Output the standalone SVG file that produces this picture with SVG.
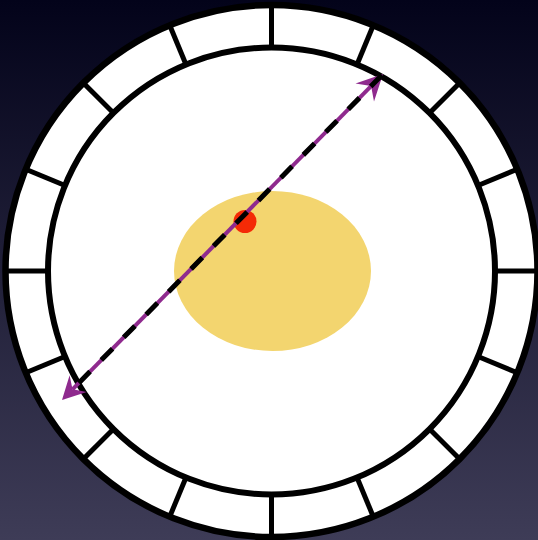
<svg xmlns="http://www.w3.org/2000/svg" width="538" height="540" viewBox="0 0 538 540">
  <defs>
    <linearGradient id="bg" x1="0" y1="0" x2="0" y2="1">
      <stop offset="0" stop-color="#03031a"/>
      <stop offset="1" stop-color="#3e3c57"/>
    </linearGradient>
    <line id="tick" x1="271.5" y1="47.5" x2="271.5" y2="5" stroke="#000" stroke-width="5"/>
  </defs>
  <style>
    .ring { fill: none; stroke: #000; }
    .purple { stroke: #8f2a8e; stroke-width: 4; fill: none; }
    .head { fill: #8f2a8e; }
    .dash { stroke: #000; stroke-width: 5; stroke-dasharray: 16 16; fill: none; }
  </style>
  <rect x="0" y="0" width="538" height="540" fill="url(#bg)"/>
  <g id="dial">
    <circle cx="271.5" cy="271" r="266" fill="#fff" stroke="#000" stroke-width="6.5"/>
    <circle class="ring" cx="271.5" cy="271" r="223.5" stroke-width="6"/>
    <g id="ticks">
      <use href="#tick" transform="rotate(0 271.5 271)"/>
      <use href="#tick" transform="rotate(22.5 271.5 271)"/>
      <use href="#tick" transform="rotate(45 271.5 271)"/>
      <use href="#tick" transform="rotate(67.5 271.5 271)"/>
      <use href="#tick" transform="rotate(90 271.5 271)"/>
      <use href="#tick" transform="rotate(112.5 271.5 271)"/>
      <use href="#tick" transform="rotate(135 271.5 271)"/>
      <use href="#tick" transform="rotate(157.5 271.5 271)"/>
      <use href="#tick" transform="rotate(180 271.5 271)"/>
      <use href="#tick" transform="rotate(202.5 271.5 271)"/>
      <use href="#tick" transform="rotate(225 271.5 271)"/>
      <use href="#tick" transform="rotate(247.5 271.5 271)"/>
      <use href="#tick" transform="rotate(270 271.5 271)"/>
      <use href="#tick" transform="rotate(292.5 271.5 271)"/>
      <use href="#tick" transform="rotate(315 271.5 271)"/>
      <use href="#tick" transform="rotate(337.5 271.5 271)"/>
    </g>
  </g>
  <g id="sun">
    <ellipse cx="272.5" cy="271" rx="98.5" ry="80" fill="#f3d56f"/>
  </g>
  <g id="dot">
    <circle cx="245" cy="221.5" r="11.5" fill="#f42a06"/>
  </g>
  <g id="connectors">
    <line class="purple" x1="72.5" y1="389.3" x2="371.1" y2="86.1"/>
    <polygon class="head" points="383,74 374,101.6 371.1,86.1 355.5,83.4"/>
    <polygon class="head" points="62,400 69.6,375.2 72.5,389.3 86.7,392"/>
    <line class="dash" x1="78.84" y1="382.9" x2="381.9" y2="75.1"/>
  </g>
</svg>
